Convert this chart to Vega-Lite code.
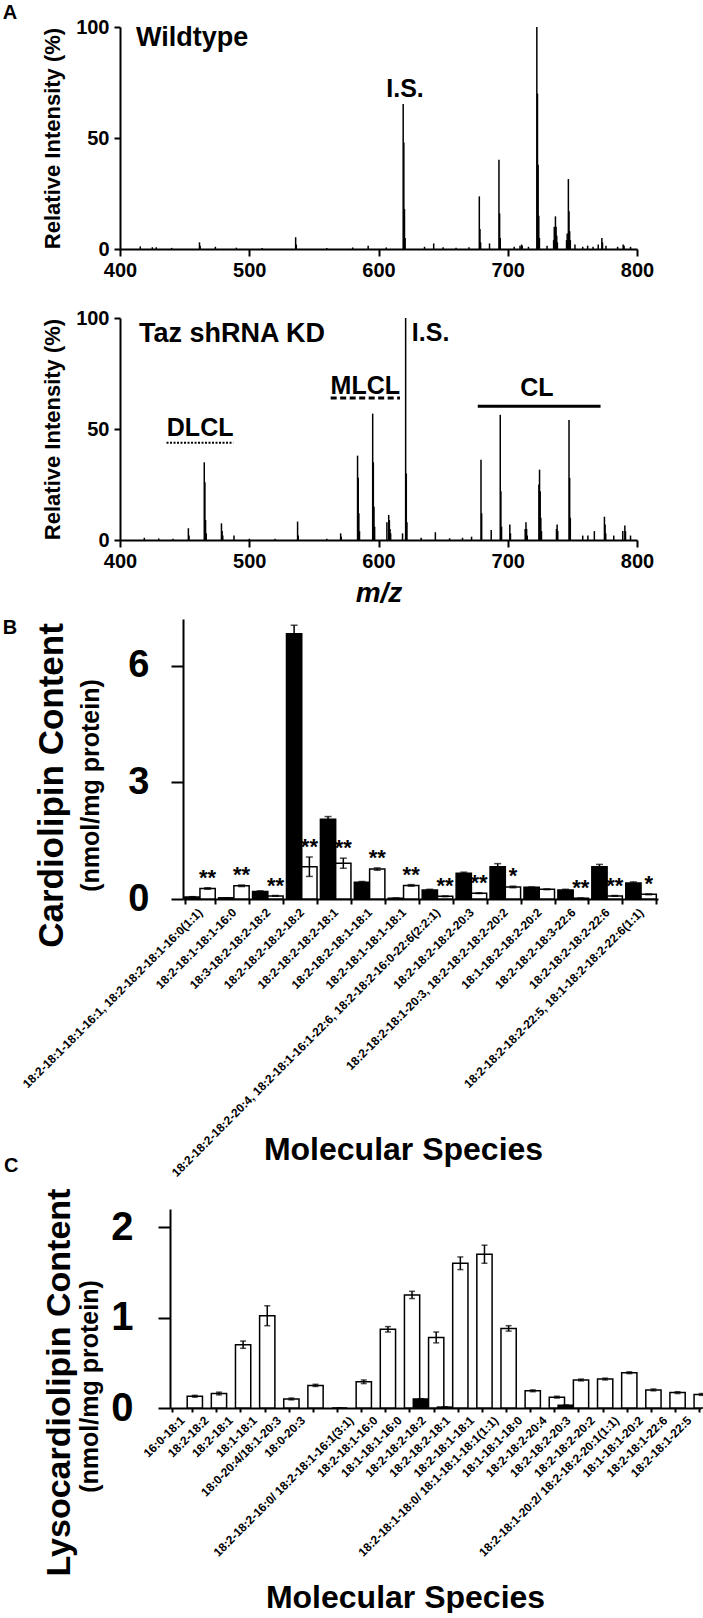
{
"$schema": "https://vega.github.io/schema/vega-lite/v6.json",
"padding": {"left": 2, "top": 2, "right": 0, "bottom": 0},
"background": "white",
"config": {
 "view": {"stroke": null},
 "font": "Liberation Sans",
 "axis": {"domainColor": "black", "domainWidth": 2, "tickColor": "black", "tickWidth": 2, "labelColor": "black", "titleColor": "black", "labelFont": "Liberation Sans", "titleFont": "Liberation Sans", "labelFontWeight": "bold", "titleFontWeight": "bold", "grid": false},
 "text": {"font": "Liberation Sans", "fontWeight": "bold", "color": "black"}
},
"datasets": {
 "wt": [{"mz":415.7,"int":1.2},{"mz":425,"int":0.8},{"mz":428,"int":0.8},{"mz":440,"int":0.5},{"mz":461.5,"int":3},{"mz":462,"int":1.5},{"mz":473.8,"int":1},{"mz":490,"int":0.6},{"mz":510,"int":0.5},{"mz":535.9,"int":5.3},{"mz":536.4,"int":2},{"mz":560,"int":0.5},{"mz":580,"int":0.7},{"mz":592,"int":1.5},{"mz":606,"int":0.7},{"mz":619.1,"int":65.3},{"mz":619.6,"int":48},{"mz":620.1,"int":18},{"mz":620.6,"int":5},{"mz":635.6,"int":1},{"mz":642.7,"int":2.5},{"mz":650,"int":0.8},{"mz":660,"int":0.6},{"mz":670,"int":0.8},{"mz":678,"int":23.7},{"mz":678.5,"int":9},{"mz":679,"int":3},{"mz":685.9,"int":2.5},{"mz":693.2,"int":40.2},{"mz":693.7,"int":16},{"mz":694.2,"int":5},{"mz":705,"int":1},{"mz":709.5,"int":1.5},{"mz":710.7,"int":2},{"mz":711.2,"int":1.5},{"mz":716,"int":1},{"mz":722.5,"int":100},{"mz":723,"int":70},{"mz":723.5,"int":38},{"mz":724,"int":15},{"mz":724.5,"int":5},{"mz":730.4,"int":1.5},{"mz":735.5,"int":4},{"mz":736,"int":10},{"mz":736.9,"int":14.7},{"mz":737.4,"int":10},{"mz":737.9,"int":6},{"mz":738.4,"int":3},{"mz":745.5,"int":4},{"mz":746,"int":7},{"mz":746.9,"int":31.5},{"mz":747.4,"int":17},{"mz":747.9,"int":8},{"mz":748.4,"int":4},{"mz":752,"int":2},{"mz":758,"int":1},{"mz":761.8,"int":1.5},{"mz":766,"int":1},{"mz":770,"int":2},{"mz":772.8,"int":5},{"mz":773.3,"int":3},{"mz":776,"int":1.5},{"mz":785,"int":1},{"mz":789.3,"int":2},{"mz":790,"int":1.5},{"mz":795,"int":1}],
 "kd": [{"mz":418.8,"int":1},{"mz":430,"int":0.7},{"mz":441,"int":0.6},{"mz":452.9,"int":5.3},{"mz":453.4,"int":2},{"mz":465.2,"int":35},{"mz":465.7,"int":26},{"mz":466.2,"int":9},{"mz":466.7,"int":3},{"mz":478.5,"int":7.5},{"mz":479,"int":4},{"mz":479.5,"int":2},{"mz":488.2,"int":2},{"mz":500,"int":0.6},{"mz":520,"int":0.6},{"mz":537.4,"int":8.3},{"mz":537.9,"int":2},{"mz":560,"int":0.6},{"mz":570.7,"int":3},{"mz":571.2,"int":1.5},{"mz":583.8,"int":38},{"mz":584.3,"int":28},{"mz":584.8,"int":12},{"mz":585.3,"int":4},{"mz":595.5,"int":56.9},{"mz":596,"int":35},{"mz":596.5,"int":15},{"mz":597,"int":6},{"mz":606.5,"int":8},{"mz":607.9,"int":11.3},{"mz":608.4,"int":9},{"mz":608.9,"int":5},{"mz":609.4,"int":3},{"mz":618.6,"int":3},{"mz":621,"int":100},{"mz":621.5,"int":30},{"mz":622,"int":8},{"mz":633,"int":1},{"mz":644,"int":3.5},{"mz":655,"int":0.8},{"mz":665,"int":1},{"mz":672,"int":1.5},{"mz":679.3,"int":36.2},{"mz":679.8,"int":12},{"mz":687.2,"int":4.5},{"mz":694.2,"int":56.4},{"mz":694.7,"int":22},{"mz":695.2,"int":6},{"mz":701.6,"int":7},{"mz":702.1,"int":3},{"mz":713.5,"int":5},{"mz":714.1,"int":8},{"mz":714.6,"int":5},{"mz":715.1,"int":2},{"mz":724.1,"int":25},{"mz":724.6,"int":31.7},{"mz":725.1,"int":22},{"mz":725.6,"int":10},{"mz":726.1,"int":4},{"mz":737.7,"int":5},{"mz":738.2,"int":7},{"mz":738.7,"int":4},{"mz":747.4,"int":54},{"mz":747.9,"int":28},{"mz":748.4,"int":10},{"mz":758,"int":2},{"mz":762,"int":2},{"mz":767,"int":4},{"mz":774.8,"int":10.5},{"mz":775.3,"int":7},{"mz":775.8,"int":3},{"mz":782,"int":2},{"mz":789,"int":4},{"mz":790.6,"int":6.5},{"mz":791.1,"int":4},{"mz":795,"int":2}],
 "cl": [
  {"species":"18:2-18:1-18:1-16:1, 18:2-18:2-18:1-16:0(1:1)","group":"WT","value":0.05,"err":0.01,"sig":""},
  {"species":"18:2-18:1-18:1-16:1, 18:2-18:2-18:1-16:0(1:1)","group":"KD","value":0.27,"err":0.02,"sig":"**"},
  {"species":"18:2-18:1-18:1-16:0","group":"WT","value":0.03,"err":0,"sig":""},
  {"species":"18:2-18:1-18:1-16:0","group":"KD","value":0.34,"err":0.02,"sig":"**"},
  {"species":"18:3-18:2-18:2-18:2","group":"WT","value":0.19,"err":0.02,"sig":""},
  {"species":"18:3-18:2-18:2-18:2","group":"KD","value":0.08,"err":0.01,"sig":"**"},
  {"species":"18:2-18:2-18:2-18:2","group":"WT","value":6.82,"err":0.22,"sig":""},
  {"species":"18:2-18:2-18:2-18:2","group":"KD","value":0.83,"err":0.25,"sig":"**"},
  {"species":"18:2-18:2-18:2-18:1","group":"WT","value":2.05,"err":0.07,"sig":""},
  {"species":"18:2-18:2-18:2-18:1","group":"KD","value":0.92,"err":0.13,"sig":"**"},
  {"species":"18:2-18:2-18:1-18:1","group":"WT","value":0.43,"err":0.02,"sig":""},
  {"species":"18:2-18:2-18:1-18:1","group":"KD","value":0.77,"err":0.03,"sig":"**"},
  {"species":"18:2-18:1-18:1-18:1","group":"WT","value":0.02,"err":0,"sig":""},
  {"species":"18:2-18:1-18:1-18:1","group":"KD","value":0.35,"err":0.02,"sig":"**"},
  {"species":"18:2-18:2-18:2-20:4, 18:2-18:1-16:1-22:6, 18:2-18:2-16:0-22:6(2:2:1)","group":"WT","value":0.23,"err":0.02,"sig":""},
  {"species":"18:2-18:2-18:2-20:4, 18:2-18:1-16:1-22:6, 18:2-18:2-16:0-22:6(2:2:1)","group":"KD","value":0.07,"err":0.01,"sig":"**"},
  {"species":"18:2-18:2-18:2-20:3","group":"WT","value":0.66,"err":0.03,"sig":""},
  {"species":"18:2-18:2-18:2-20:3","group":"KD","value":0.15,"err":0.01,"sig":"**"},
  {"species":"18:2-18:2-18:1-20:3, 18:2-18:2-18:2-20:2","group":"WT","value":0.83,"err":0.08,"sig":""},
  {"species":"18:2-18:2-18:1-20:3, 18:2-18:2-18:2-20:2","group":"KD","value":0.31,"err":0.02,"sig":"*"},
  {"species":"18:1-18:2-18:2-20:2","group":"WT","value":0.30,"err":0.01,"sig":""},
  {"species":"18:1-18:2-18:2-20:2","group":"KD","value":0.25,"err":0.01,"sig":""},
  {"species":"18:2-18:2-18:3-22:6","group":"WT","value":0.23,"err":0.02,"sig":""},
  {"species":"18:2-18:2-18:3-22:6","group":"KD","value":0.02,"err":0,"sig":"**"},
  {"species":"18:2-18:2-18:2-22:6","group":"WT","value":0.83,"err":0.06,"sig":""},
  {"species":"18:2-18:2-18:2-22:6","group":"KD","value":0.08,"err":0.01,"sig":"**"},
  {"species":"18:2-18:2-18:2-22:5, 18:1-18:2-18:2-22:6(1:1)","group":"WT","value":0.41,"err":0.03,"sig":""},
  {"species":"18:2-18:2-18:2-22:5, 18:1-18:2-18:2-22:6(1:1)","group":"KD","value":0.12,"err":0.01,"sig":"*"}
 ],
 "lcl": [
  {"species":"16:0-18:1","group":"KD","value":0.13,"err":0.01},
  {"species":"18:2-18:2","group":"KD","value":0.16,"err":0.015},
  {"species":"18:2-18:1","group":"KD","value":0.70,"err":0.04},
  {"species":"18:1-18:1","group":"KD","value":1.02,"err":0.11},
  {"species":"18:0-20:4/18:1-20:3","group":"KD","value":0.10,"err":0.01},
  {"species":"18:0-20:3","group":"KD","value":0.25,"err":0.012},
  {"species":"","group":"KD","value":0,"err":0},
  {"species":"18:2-18:2-16:0/ 18:2-18:1-16:1(3:1)","group":"KD","value":0.29,"err":0.02},
  {"species":"18:2-18:1-16:0","group":"KD","value":0.87,"err":0.03},
  {"species":"18:1-18:1-16:0","group":"KD","value":1.25,"err":0.04},
  {"species":"18:2-18:2-18:2","group":"WT","value":0.10,"err":0},
  {"species":"18:2-18:2-18:2","group":"KD","value":0.78,"err":0.06},
  {"species":"18:2-18:2-18:1","group":"WT","value":0.01,"err":0},
  {"species":"18:2-18:2-18:1","group":"KD","value":1.60,"err":0.07},
  {"species":"18:2-18:1-18:1","group":"KD","value":1.70,"err":0.10},
  {"species":"18:2-18:1-18:0/ 18:1-18:1-18:1(1:1)","group":"KD","value":0.88,"err":0.03},
  {"species":"18:1-18:1-18:0","group":"KD","value":0.19,"err":0.01},
  {"species":"18:2-18:2-20:4","group":"KD","value":0.12,"err":0.01},
  {"species":"18:2-18:2-20:3","group":"WT","value":0.03,"err":0},
  {"species":"18:2-18:2-20:3","group":"KD","value":0.31,"err":0.01},
  {"species":"18:2-18:2-20:2","group":"KD","value":0.32,"err":0.01},
  {"species":"18:2-18:1-20:2/ 18:2-18:2-20:1(1:1)","group":"KD","value":0.39,"err":0.01},
  {"species":"18:1-18:1-20:2","group":"KD","value":0.20,"err":0.01},
  {"species":"18:2-18:1-22:6","group":"KD","value":0.17,"err":0.01},
  {"species":"18:2-18:1-22:5","group":"KD","value":0.15,"err":0.01}
 ]
},
"vconcat": [
 {"vconcat": [
  {"hconcat": [
   {"data": {"values": [{"t": "A"}]}, "width": 14, "height": 1, "mark": {"type": "text", "fontSize": 20, "fontWeight": "bold", "dy": -15}, "encoding": {"text": {"field": "t"}}},
   {"vconcat": [
    {"width": 517, "height": 222,
     "layer": [
      {"data": {"name": "wt"}, "mark": {"type": "rule", "color": "black", "strokeWidth": 1.5},
       "encoding": {
        "x": {"field": "mz", "type": "quantitative", "scale": {"domain": [400, 800], "nice": false, "zero": false},
              "axis": {"values": [400,500,600,700,800], "title": null, "labelFontSize": 20, "labelPadding": 4, "tickSize": 7, "labelFlush": false}},
        "y": {"field": "int", "type": "quantitative", "scale": {"domain": [0, 100], "nice": false},
              "axis": {"values": [0,50,100], "title": "Relative Intensity (%)", "titleFontSize": 22, "titlePadding": 11, "labelFontSize": 20, "labelPadding": 5, "tickSize": 6}},
        "y2": {"datum": 0}}},
      {"data": {"values": [{"mz": 412.4, "y": 91.4, "t": "Wildtype"}]},
       "mark": {"type": "text", "align": "left", "baseline": "alphabetic", "fontSize": 27, "fontWeight": "bold", "color": "black"},
       "encoding": {"x": {"field": "mz", "type": "quantitative", "scale": {"domain": [400, 800], "nice": false, "zero": false}},
                    "y": {"field": "y", "type": "quantitative", "scale": {"domain": [0, 100], "nice": false}},
                    "text": {"field": "t"}}},
      {"data": {"values": [{"mz": 620.5, "y": 68.5, "t": "I.S."}]},
       "mark": {"type": "text", "align": "center", "baseline": "alphabetic", "fontSize": 25, "fontWeight": "bold", "color": "black"},
       "encoding": {"x": {"field": "mz", "type": "quantitative", "scale": {"domain": [400, 800], "nice": false, "zero": false}},
                    "y": {"field": "y", "type": "quantitative", "scale": {"domain": [0, 100], "nice": false}},
                    "text": {"field": "t"}}}
     ]},
    {"width": 517, "height": 222,
     "layer": [
      {"data": {"name": "kd"}, "mark": {"type": "rule", "color": "black", "strokeWidth": 1.5},
       "encoding": {
        "x": {"field": "mz", "type": "quantitative", "scale": {"domain": [400, 800], "nice": false, "zero": false},
              "axis": {"values": [400,500,600,700,800], "title": "m/z", "titleFontStyle": "italic", "titleFontSize": 28, "titlePadding": 8, "labelFontSize": 20, "labelPadding": 4, "tickSize": 7, "labelFlush": false}},
        "y": {"field": "int", "type": "quantitative", "scale": {"domain": [0, 100], "nice": false},
              "axis": {"values": [0,50,100], "title": "Relative Intensity (%)", "titleFontSize": 22, "titlePadding": 11, "labelFontSize": 20, "labelPadding": 5, "tickSize": 6}},
        "y2": {"datum": 0}}},
      {"data": {"values": [{"mz": 414.7, "y": 89.2, "t": "Taz shRNA KD"}]},
       "mark": {"type": "text", "align": "left", "baseline": "alphabetic", "fontSize": 27, "fontWeight": "bold", "color": "black"},
       "encoding": {"x": {"field": "mz", "type": "quantitative", "scale": {"domain": [400, 800], "nice": false, "zero": false}},
                    "y": {"field": "y", "type": "quantitative", "scale": {"domain": [0, 100], "nice": false}},
                    "text": {"field": "t"}}},
      {"data": {"values": [{"mz": 625.8, "y": 89.8, "t": "I.S."}]},
       "mark": {"type": "text", "align": "left", "baseline": "alphabetic", "fontSize": 25, "fontWeight": "bold", "color": "black"},
       "encoding": {"x": {"field": "mz", "type": "quantitative", "scale": {"domain": [400, 800], "nice": false, "zero": false}},
                    "y": {"field": "y", "type": "quantitative", "scale": {"domain": [0, 100], "nice": false}},
                    "text": {"field": "t"}}},
      {"data": {"values": [{"mz": 462, "y": 46.8, "t": "DLCL"}, {"mz": 589.8, "y": 65.9, "t": "MLCL"}, {"mz": 722.6, "y": 64.9, "t": "CL"}]},
       "mark": {"type": "text", "align": "center", "baseline": "alphabetic", "fontSize": 25, "fontWeight": "bold", "color": "black"},
       "encoding": {"x": {"field": "mz", "type": "quantitative", "scale": {"domain": [400, 800], "nice": false, "zero": false}},
                    "y": {"field": "y", "type": "quantitative", "scale": {"domain": [0, 100], "nice": false}},
                    "text": {"field": "t"}}},
      {"data": {"values": [{"mz1": 436, "mz2": 487.6, "y": 43.8}]},
       "mark": {"type": "rule", "color": "black", "strokeWidth": 2, "strokeDash": [2, 1.5]},
       "encoding": {"x": {"field": "mz1", "type": "quantitative", "scale": {"domain": [400, 800], "nice": false, "zero": false}}, "x2": {"field": "mz2"},
                    "y": {"field": "y", "type": "quantitative", "scale": {"domain": [0, 100], "nice": false}}}},
      {"data": {"values": [{"mz1": 563, "mz2": 616.6, "y": 64}]},
       "mark": {"type": "rule", "color": "black", "strokeWidth": 3, "strokeDash": [6, 3.5]},
       "encoding": {"x": {"field": "mz1", "type": "quantitative", "scale": {"domain": [400, 800], "nice": false, "zero": false}}, "x2": {"field": "mz2"},
                    "y": {"field": "y", "type": "quantitative", "scale": {"domain": [0, 100], "nice": false}}}},
      {"data": {"values": [{"mz1": 676.8, "mz2": 771.8, "y": 60.2}]},
       "mark": {"type": "rule", "color": "black", "strokeWidth": 3},
       "encoding": {"x": {"field": "mz1", "type": "quantitative", "scale": {"domain": [400, 800], "nice": false, "zero": false}}, "x2": {"field": "mz2"},
                    "y": {"field": "y", "type": "quantitative", "scale": {"domain": [0, 100], "nice": false}}}}
     ]}
   ], "spacing": 28}
  ], "spacing": 23},
  {"hconcat": [
   {"data": {"values": [{"t": "B"}]}, "width": 14, "height": 18, "mark": {"type": "text", "fontSize": 20, "fontWeight": "bold"}, "encoding": {"text": {"field": "t"}}},
   {"width": 475, "height": 280,
    "data": {"name": "cl"},
    "transform": [
     {"calculate": "datum.value - datum.err", "as": "lo"},
     {"calculate": "datum.value + datum.err", "as": "hi"}
    ],
    "layer": [
     {"layer": [
      {"mark": {"type": "bar", "stroke": "black", "strokeWidth": 1.5},
       "encoding": {
        "x": {"field": "species", "type": "nominal", "sort": null, "scale": {"paddingInner": 0.1, "paddingOuter": 0.05},
              "axis": {"title": "Molecular Species", "titleFontSize": 32, "titleX": 220, "titleY": 260, "titleBaseline": "alphabetic", "titleAlign": "center", "labelAngle": -45, "labelAlign": "right", "labelBaseline": "middle", "labelFontSize": 12, "labelPadding": 6, "labelLimit": 1000, "labelOverlap": false, "tickSize": 5, "tickBand": "extent"}},
        "xOffset": {"field": "group", "type": "nominal", "scale": {"domain": ["WT", "KD"], "paddingInner": 0, "paddingOuter": 0}},
        "y": {"field": "value", "type": "quantitative", "scale": {"domain": [0, 7.2], "nice": false},
              "axis": {"values": [0,3,6], "format": "d", "orient": "left", "title": "(nmol/mg protein)", "titleFontSize": 25, "titlePadding": 15, "titleX": -80, "titleY": 166, "labelFontSize": 38, "labelPadding": 22, "tickSize": 12}},
        "fill": {"field": "group", "type": "nominal", "scale": {"domain": ["WT", "KD"], "range": ["black", "white"]}, "legend": null}}},
      {"mark": {"type": "rule", "color": "black", "strokeWidth": 1.5},
       "encoding": {
        "x": {"field": "species", "type": "nominal", "sort": null, "scale": {"paddingInner": 0.1, "paddingOuter": 0.05}},
        "xOffset": {"field": "group", "type": "nominal", "scale": {"domain": ["WT", "KD"], "paddingInner": 0, "paddingOuter": 0}},
        "y": {"field": "lo", "type": "quantitative", "scale": {"domain": [0, 7.2], "nice": false}},
        "y2": {"field": "hi"}}},
      {"mark": {"type": "tick", "color": "black", "thickness": 1.5, "size": 7},
       "encoding": {
        "x": {"field": "species", "type": "nominal", "sort": null, "scale": {"paddingInner": 0.1, "paddingOuter": 0.05}},
        "xOffset": {"field": "group", "type": "nominal", "scale": {"domain": ["WT", "KD"], "paddingInner": 0, "paddingOuter": 0}},
        "y": {"field": "hi", "type": "quantitative", "scale": {"domain": [0, 7.2], "nice": false}}}},
      {"mark": {"type": "tick", "color": "black", "thickness": 1.5, "size": 7},
       "encoding": {
        "x": {"field": "species", "type": "nominal", "sort": null, "scale": {"paddingInner": 0.1, "paddingOuter": 0.05}},
        "xOffset": {"field": "group", "type": "nominal", "scale": {"domain": ["WT", "KD"], "paddingInner": 0, "paddingOuter": 0}},
        "y": {"field": "lo", "type": "quantitative", "scale": {"domain": [0, 7.2], "nice": false}}}},
      {"mark": {"type": "text", "fontSize": 22, "fontWeight": "bold", "baseline": "alphabetic", "dy": -3, "color": "black"},
       "encoding": {
        "x": {"field": "species", "type": "nominal", "sort": null, "scale": {"paddingInner": 0.1, "paddingOuter": 0.05}},
        "xOffset": {"field": "group", "type": "nominal", "scale": {"domain": ["WT", "KD"], "paddingInner": 0, "paddingOuter": 0}},
        "y": {"field": "hi", "type": "quantitative", "scale": {"domain": [0, 7.2], "nice": false}},
        "text": {"field": "sig"}}}
     ]},
     {"mark": {"type": "rule", "opacity": 0},
      "encoding": {"y": {"field": "value", "type": "quantitative", "scale": {"domain": [0, 7.2], "nice": false},
        "axis": {"orient": "left", "title": "Cardiolipin Content", "titleFontSize": 35, "titlePadding": 101, "titleX": -114, "titleY": 166, "labels": false, "ticks": false, "domain": false}}}}
    ],
    "resolve": {"axis": {"y": "independent"}}}
  ], "spacing": 2}
 ], "spacing": -3},
 {"hconcat": [
  {"data": {"values": [{"t": ""}]}, "width": 1, "height": 1, "mark": {"type": "text", "fontSize": 10}, "encoding": {"text": {"field": "t"}}},
  {"width": 531, "height": 199,
   "title": {"text": "C", "anchor": "start", "frame": "group", "orient": "top", "offset": -8, "dx": -166, "baseline": "bottom", "fontSize": 20, "fontWeight": "bold", "font": "Liberation Sans", "color": "black"},
   "data": {"name": "lcl"},
   "transform": [
    {"calculate": "datum.value - datum.err", "as": "lo"},
    {"calculate": "datum.value + datum.err", "as": "hi"}
   ],
   "layer": [
    {"layer": [
     {"mark": {"type": "bar", "stroke": "black", "strokeWidth": 1.5},
      "encoding": {
       "x": {"field": "species", "type": "nominal", "sort": null, "scale": {"paddingInner": 0.16, "paddingOuter": 0.08},
             "axis": {"title": "Molecular Species", "titleFontSize": 32, "titleX": 235, "titleY": 199, "titleBaseline": "alphabetic", "titleAlign": "center", "labelAngle": -45, "labelAlign": "right", "labelBaseline": "middle", "labelFontSize": 12, "labelPadding": 6, "labelLimit": 1000, "labelOverlap": false, "tickSize": 4, "tickBand": "extent"}},
       "xOffset": {"field": "group", "type": "nominal", "scale": {"domain": ["WT", "KD"], "paddingInner": 0, "paddingOuter": 0}},
       "y": {"field": "value", "type": "quantitative", "scale": {"domain": [0, 2.2], "nice": false},
             "axis": {"values": [0,1,2], "format": "d", "orient": "left", "title": "(nmol/mg protein)", "titleFontSize": 25, "titlePadding": 2, "titleX": -68, "titleY": 177, "labelFontSize": 40, "labelPadding": 25, "tickSize": 12}},
       "fill": {"field": "group", "type": "nominal", "scale": {"domain": ["WT", "KD"], "range": ["black", "white"]}, "legend": null}}},
     {"mark": {"type": "rule", "color": "black", "strokeWidth": 1.5},
      "encoding": {
       "x": {"field": "species", "type": "nominal", "sort": null, "scale": {"paddingInner": 0.16, "paddingOuter": 0.08}},
       "xOffset": {"field": "group", "type": "nominal", "scale": {"domain": ["WT", "KD"], "paddingInner": 0, "paddingOuter": 0}},
       "y": {"field": "lo", "type": "quantitative", "scale": {"domain": [0, 2.2], "nice": false}},
       "y2": {"field": "hi"}}},
     {"mark": {"type": "tick", "color": "black", "thickness": 1.5, "size": 6},
      "encoding": {
       "x": {"field": "species", "type": "nominal", "sort": null, "scale": {"paddingInner": 0.16, "paddingOuter": 0.08}},
       "xOffset": {"field": "group", "type": "nominal", "scale": {"domain": ["WT", "KD"], "paddingInner": 0, "paddingOuter": 0}},
       "y": {"field": "hi", "type": "quantitative", "scale": {"domain": [0, 2.2], "nice": false}}}},
     {"mark": {"type": "tick", "color": "black", "thickness": 1.5, "size": 6},
      "encoding": {
       "x": {"field": "species", "type": "nominal", "sort": null, "scale": {"paddingInner": 0.16, "paddingOuter": 0.08}},
       "xOffset": {"field": "group", "type": "nominal", "scale": {"domain": ["WT", "KD"], "paddingInner": 0, "paddingOuter": 0}},
       "y": {"field": "lo", "type": "quantitative", "scale": {"domain": [0, 2.2], "nice": false}}}}
    ]},
    {"mark": {"type": "rule", "opacity": 0},
     "encoding": {"y": {"field": "value", "type": "quantitative", "scale": {"domain": [0, 2.2], "nice": false},
       "axis": {"orient": "left", "title": "Lysocardiolipin Content", "titleFontSize": 34, "titlePadding": 90, "titleX": -94, "titleY": 173, "labels": false, "ticks": false, "domain": false}}}}
   ],
   "resolve": {"axis": {"y": "independent"}}}
 ], "spacing": 0}
],
"spacing": -23
}
